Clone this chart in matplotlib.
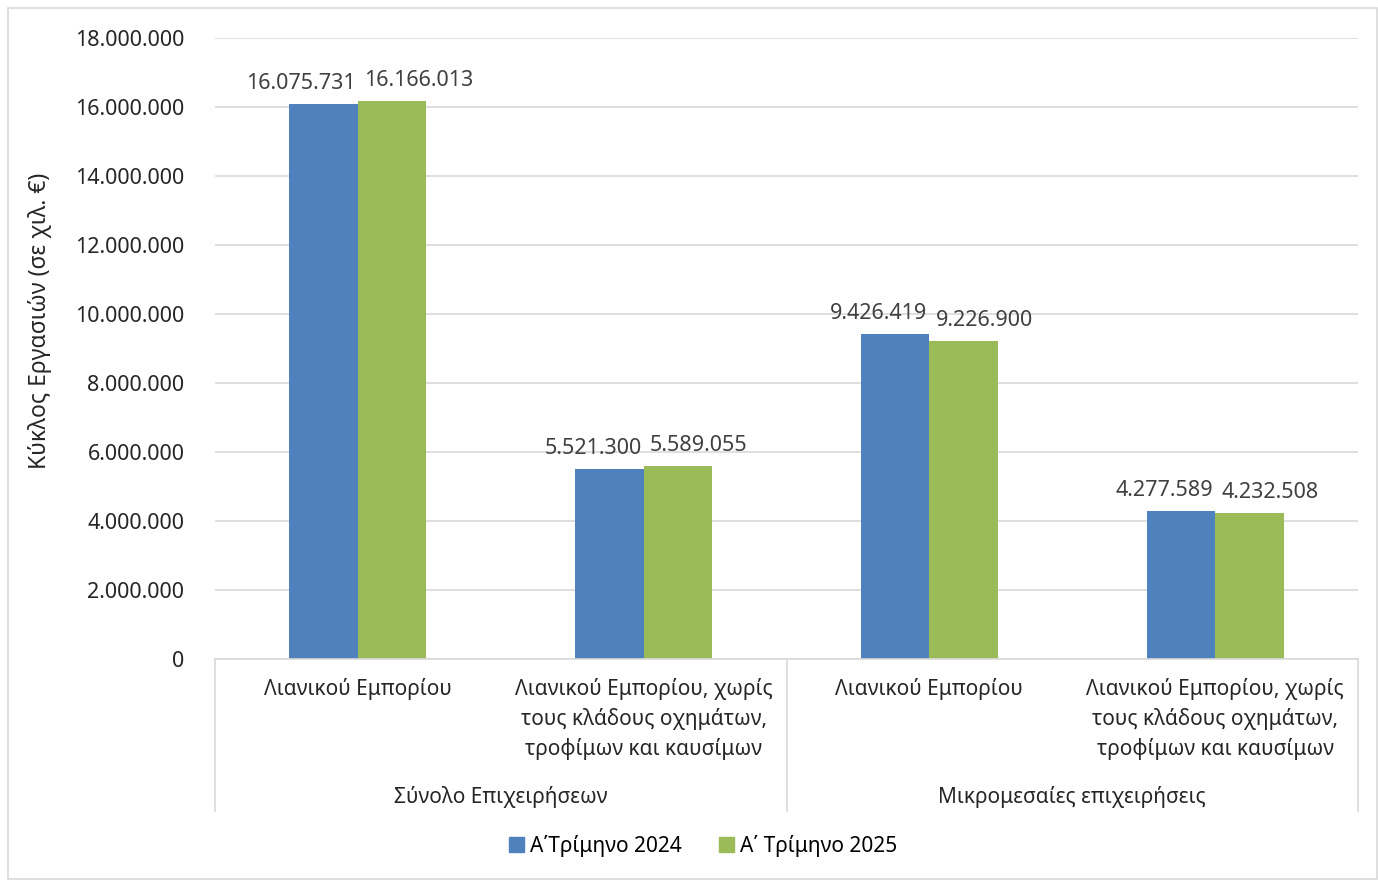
import matplotlib
matplotlib.use("Agg")
import matplotlib.pyplot as plt
from matplotlib.patches import Rectangle
from matplotlib.transforms import offset_copy
import numpy as np

plt.rcParams['font.family'] = ['Noto Sans', 'DejaVu Sans']

groups = ["Σύνολο Επιχειρήσεων", "Μικρομεσαίες επιχειρήσεις"]
categories = ["Λιανικού Εμπορίου",
              "Λιανικού Εμπορίου, χωρίς\nτους κλάδους οχημάτων,\nτροφίμων και καυσίμων",
              "Λιανικού Εμπορίου",
              "Λιανικού Εμπορίου, χωρίς\nτους κλάδους οχημάτων,\nτροφίμων και καυσίμων"]
series_names = ["Α΄Τρίμηνο 2024", "Α΄ Τρίμηνο 2025"]
values_2024 = [16075731, 5521300, 9426419, 4277589]
values_2025 = [16166013, 5589055, 9226900, 4232508]
yticks = [0, 2000000, 4000000, 6000000, 8000000, 10000000, 12000000, 14000000, 16000000, 18000000]

colors = ["#4F81BD", "#9BBB59"]
FS = 15.5

def fmt(v):
    return f"{v:,}".replace(",", ".")

fig = plt.figure(figsize=(13.78, 8.81), dpi=100)
ax = fig.add_axes([215/1378, 1-659/881, (1358-215)/1378, (659-38)/881])

x = np.arange(len(categories))
w = 0.24
b1 = ax.bar(x - w/2, values_2024, w, color=colors[0], label=series_names[0])
b2 = ax.bar(x + w/2, values_2025, w, color=colors[1], label=series_names[1])

tr_left = offset_copy(ax.transData, fig=fig, x=-2, y=10, units='dots')
tr_right = offset_copy(ax.transData, fig=fig, x=6, y=10, units='dots')
for r, v in zip(b1, values_2024):
    ax.text(r.get_x() + r.get_width(), v, fmt(v), ha='right', va='bottom',
            fontsize=FS, color='#404040', transform=tr_left)
for r, v in zip(b2, values_2025):
    ax.text(r.get_x(), v, fmt(v), ha='left', va='bottom',
            fontsize=FS, color='#404040', transform=tr_right)

ax.set_xlim(-0.5, len(categories) - 0.5)
ax.set_ylim(0, 18000000)
ax.set_yticks(yticks)
ax.set_yticklabels([fmt(t) for t in yticks], fontsize=FS, color='#262626')
ax.tick_params(axis='y', length=0, pad=22)
ax.tick_params(axis='x', length=0)
ax.set_xticks([])
ax.grid(axis='y', color='#D9D9D9', linewidth=1.2)
ax.set_axisbelow(True)
for s in ['top', 'right', 'left']:
    ax.spines[s].set_visible(False)
ax.spines['bottom'].set_color('#D9D9D9')
ax.spines['bottom'].set_linewidth(1.2)

trans = ax.get_xaxis_transform()
for i, c in enumerate(categories):
    ax.text(x[i], -0.031, c, transform=trans, ha='center', va='top', fontsize=15,
            color='#262626', linespacing=1.47)
for g, gname in enumerate(groups):
    ax.text(g*2 + 0.5, -0.205, gname, transform=trans, ha='center', va='top', fontsize=15,
            color='#262626')
for xb in [-0.5, 1.5, 3.5]:
    ax.plot([xb, xb], [0, -0.245], transform=trans, color='#D9D9D9', linewidth=1.2, clip_on=False)

ax.set_ylabel("Κύκλος Εργασιών (σε χιλ. €)", fontsize=16.5, color='#262626')
ax.yaxis.set_label_coords(-0.143, 0.544)

handles = [Rectangle((0, 0), 1, 1, color=colors[0]), Rectangle((0, 0), 1, 1, color=colors[1])]
fig.legend(handles, series_names, loc='center', bbox_to_anchor=(703/1378, 1-846/881), ncol=2,
           frameon=False, fontsize=15, handlelength=0.7, handleheight=0.7, handletextpad=0.3,
           columnspacing=1.8)

fig.patches.append(Rectangle((8/1378, 0.002), 1 - 9/1378, 1 - 8/881 - 0.002, transform=fig.transFigure,
                             fill=False, edgecolor='#D9D9D9', linewidth=1.2))

fig.savefig("out.png", dpi=100)
